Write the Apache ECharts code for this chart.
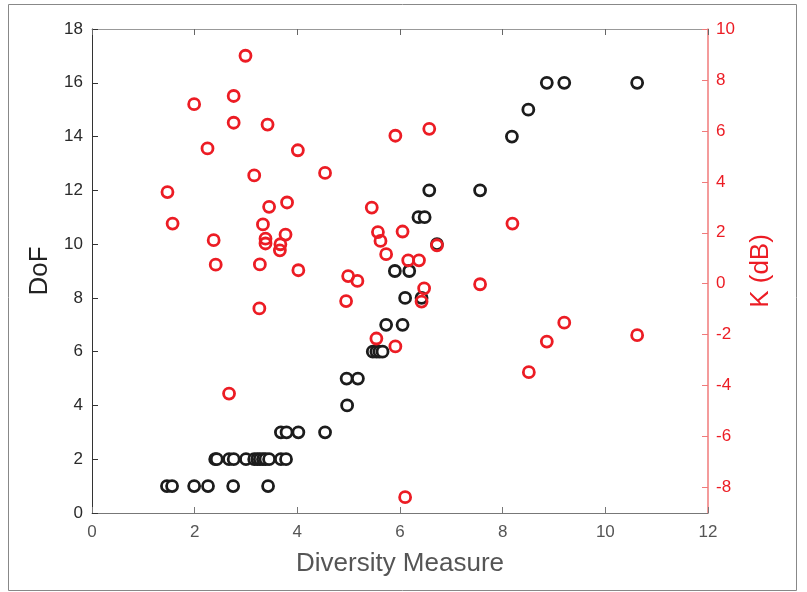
<!DOCTYPE html>
<html>
<head>
<meta charset="utf-8">
<script src="https://cdn.jsdelivr.net/npm/echarts@6/dist/echarts.min.js"></script>
<style>
html,body{margin:0;padding:0;background:#fff;}
#chart{width:807px;height:592px;}
</style>
</head>
<body>
<div id="chart"></div>
<script>
// diversity measure vs DoF (black) and K in dB (red)
const dofX = [1.46,1.56,1.99,2.26,2.75,3.43,
  2.40,2.43,2.67,2.76,3.00,3.16,3.22,3.27,3.33,3.38,3.45,3.68,3.78,
  3.68,3.79,4.02,4.54,
  4.97,
  4.96,5.18,
  5.47,5.54,5.60,5.66,
  5.73,6.05,
  6.10,6.42,
  5.90,6.18,
  6.72,
  6.36,6.48,
  6.57,7.56,
  8.18,
  8.50,
  8.86,9.20,10.62];
const dofY = [1,1,1,1,1,1,
  2,2,2,2,2,2,2,2,2,2,2,2,2,
  3,3,3,3,
  4,
  5,5,
  6,6,6,6,
  7,7,
  8,8,
  9,9,
  10,
  11,11,
  12,12,
  14,
  15,
  16,16,16];
const kX = [2.99,1.99,2.76,2.76,3.42,2.25,4.01,3.16,4.54,1.47,
  1.57,3.45,3.80,3.33,3.38,3.38,3.77,3.67,3.66,2.37,
  2.41,3.27,4.02,5.45,5.57,5.62,5.73,5.91,6.05,6.57,
  8.19,6.16,6.37,6.72,4.99,5.17,3.26,4.95,2.67,5.54,
  5.91,6.10,7.56,6.47,6.42,9.20,8.86,8.51,10.62];
const kY = [8.95,7.05,7.37,6.32,6.25,5.31,5.24,4.25,4.35,3.60,
  2.36,3.02,3.19,2.33,1.77,1.58,1.93,1.55,1.31,1.71,
  0.75,0.76,0.53,2.99,2.03,1.68,1.16,5.81,2.05,6.08,
  2.36,0.92,0.92,1.51,0.30,0.11,-0.97,-0.68,-4.31,-2.15,
  -2.46,-8.38,-0.02,-0.18,-0.70,-1.53,-2.27,-3.47,-2.02];
const kTicks = [-8,-6,-4,-2,0,2,4,6,8,10];

const black = '#1c1c1c', red = '#ec1c24';
const ff = 'Liberation Sans';
var myChart = echarts.init(document.getElementById('chart'));
var option = {
  animation: false,
  grid: {left: 92, right: 99, top: 29, bottom: 79},
  graphic: [{
    type: 'rect', shape: {x: 8.5, y: 4.5, width: 788, height: 586},
    style: {fill: null, stroke: '#888', lineWidth: 1}, silent: true, z: -1
  }],
  xAxis: [{
    type: 'value', min: 0, max: 12, interval: 2, position: 'bottom',
    name: 'Diversity Measure', nameLocation: 'middle', nameGap: 38,
    nameTextStyle: {fontFamily: ff, fontSize: 26, color: '#555'},
    axisLine: {onZero: false, lineStyle: {color: '#777', width: 1}},
    axisTick: {inside: true, length: 6, lineStyle: {color: '#777'}},
    axisLabel: {fontFamily: ff, fontSize: 17, color: '#555', margin: 11},
    splitLine: {show: false}
  }, {
    type: 'value', min: 0, max: 12, interval: 2, position: 'top',
    axisLine: {onZero: false, lineStyle: {color: '#999', width: 1}},
    axisTick: {inside: true, length: 6, lineStyle: {color: '#666'}},
    axisLabel: {show: false},
    splitLine: {show: false}
  }],
  yAxis: [{
    type: 'value', min: 0, max: 18, interval: 2, position: 'left',
    name: 'DoF', nameLocation: 'middle', nameGap: 38, nameRotate: 90,
    nameTextStyle: {fontFamily: ff, fontSize: 26, color: '#222'},
    axisLine: {show: true, onZero: false, lineStyle: {color: '#333', width: 1}},
    axisTick: {inside: true, length: 6, lineStyle: {color: '#333'}},
    axisLabel: {fontFamily: ff, fontSize: 17, color: '#2a2a2a', margin: 9},
    splitLine: {show: false}
  }, {
    type: 'value', min: -9, max: 10, position: 'right',
    name: 'K (dB)', nameLocation: 'middle', nameGap: 40, nameRotate: 90,
    nameTextStyle: {fontFamily: ff, fontSize: 26, color: red},
    axisLine: {show: true, onZero: false, lineStyle: {color: '#f07a7a', width: 1.5}},
    axisTick: {show: true, inside: true, length: 6, customValues: kTicks, lineStyle: {color: '#f07a7a'}},
    axisLabel: {fontFamily: ff, fontSize: 17, color: red, margin: 8, customValues: kTicks},
    splitLine: {show: false}
  }],
  series: [{
    name: 'DoF', type: 'scatter', xAxisIndex: 0, yAxisIndex: 0,
    data: dofX.map((x, i) => [x, dofY[i]]),
    symbol: 'circle', symbolSize: 11,
    itemStyle: {color: '#fff', borderColor: black, borderWidth: 2.8, opacity: 1}
  }, {
    name: 'K', type: 'scatter', xAxisIndex: 0, yAxisIndex: 1,
    data: kX.map((x, i) => [x, kY[i]]),
    symbol: 'circle', symbolSize: 11,
    itemStyle: {color: 'rgba(255,255,255,0)', borderColor: red, borderWidth: 2.8, opacity: 1}
  }]
};
myChart.setOption(option);
</script>
</body>
</html>
